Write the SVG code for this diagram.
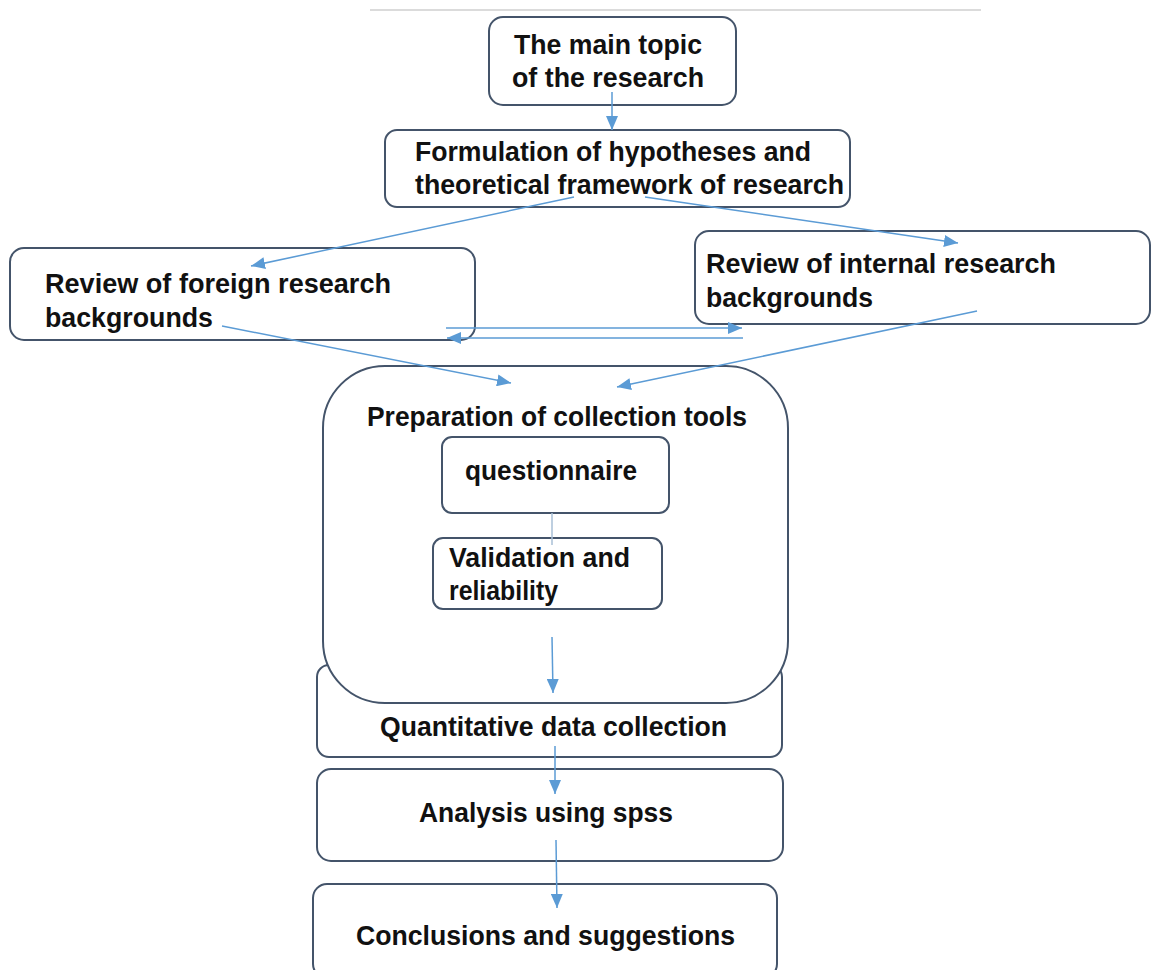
<svg xmlns="http://www.w3.org/2000/svg" width="1151" height="970" viewBox="0 0 1151 970">
<style>
.box{fill:#fff;stroke:#44546a;stroke-width:2}
.t{font-family:"Liberation Sans",Arial,sans-serif;font-weight:bold;font-size:28px;fill:#111}
.c{fill:none;stroke:#5b9bd5;stroke-width:1.5}
.a{marker-end:url(#ah)}
</style>
<defs>
<marker id="ah" markerUnits="userSpaceOnUse" markerWidth="14" markerHeight="12" refX="14" refY="6" orient="auto">
<path d="M0,0 L14,6 L0,12 z" fill="#5b9bd5"/>
</marker>
</defs>
<rect width="1151" height="970" fill="#fff"/>
<line x1="370" y1="10" x2="981" y2="10" stroke="#cfcfcf" stroke-width="1.5"/>

<g id="n1">
<rect class="box" x="489" y="17" width="247" height="88" rx="14"/>
<text class="t" x="514" y="54" textLength="188" lengthAdjust="spacingAndGlyphs">The main topic</text>
<text class="t" x="512" y="87" textLength="192" lengthAdjust="spacingAndGlyphs">of the research</text>
</g>
<g id="n2">
<rect class="box" x="385" y="130" width="465" height="77" rx="12"/>
<text class="t" x="415" y="161" textLength="396" lengthAdjust="spacingAndGlyphs">Formulation of hypotheses and</text>
<text class="t" x="415" y="194" textLength="429" lengthAdjust="spacingAndGlyphs">theoretical framework of research</text>
</g>
<g id="n3">
<rect class="box" x="10" y="248" width="465" height="92" rx="14"/>
<text class="t" x="45" y="293" textLength="346" lengthAdjust="spacingAndGlyphs">Review of foreign research</text>
<text class="t" x="45" y="327" textLength="168" lengthAdjust="spacingAndGlyphs">backgrounds</text>
</g>
<g id="n4">
<rect class="box" x="695" y="231" width="455" height="93" rx="14"/>
<text class="t" x="706" y="273" textLength="350" lengthAdjust="spacingAndGlyphs">Review of internal research</text>
<text class="t" x="706" y="307" textLength="167" lengthAdjust="spacingAndGlyphs">backgrounds</text>
</g>
<g id="n8">
<rect class="box" x="317" y="665" width="465" height="92" rx="12"/>
<text class="t" x="380" y="736" textLength="347" lengthAdjust="spacingAndGlyphs">Quantitative data collection</text>
</g>
<g id="n5">
<rect class="box" x="323" y="366" width="465" height="337" rx="62"/>
<text class="t" x="367" y="426" textLength="380" lengthAdjust="spacingAndGlyphs">Preparation of collection tools</text>
</g>
<g id="n6">
<rect class="box" x="442" y="437" width="227" height="76" rx="10"/>
<text class="t" x="465" y="480" textLength="172" lengthAdjust="spacingAndGlyphs">questionnaire</text>
</g>
<g id="n7">
<rect class="box" x="433" y="538" width="229" height="71" rx="10"/>
<text class="t" x="449" y="567" textLength="181" lengthAdjust="spacingAndGlyphs">Validation and</text>
<text class="t" x="449" y="600" textLength="109" lengthAdjust="spacingAndGlyphs">reliability</text>
</g>
<g id="n9">
<rect class="box" x="317" y="769" width="466" height="92" rx="14"/>
<text class="t" x="419" y="822" textLength="254" lengthAdjust="spacingAndGlyphs">Analysis using spss</text>
</g>
<g id="n10">
<rect class="box" x="313" y="884" width="464" height="94" rx="14"/>
<text class="t" x="356" y="945" textLength="379" lengthAdjust="spacingAndGlyphs">Conclusions and suggestions</text>
</g>

<g id="connectors">
<line class="c a" x1="612" y1="92" x2="612" y2="130"/>
<line class="c a" x1="574" y1="197" x2="251" y2="266"/>
<line class="c a" x1="645" y1="197" x2="958" y2="243"/>
<line class="c a" x1="446" y1="328" x2="742" y2="328"/>
<line class="c a" x1="743" y1="338" x2="447" y2="338"/>
<line class="c a" x1="222" y1="326" x2="511" y2="383"/>
<line class="c a" x1="977" y1="311" x2="617" y2="387"/>
<line x1="552" y1="513" x2="552" y2="545" stroke="#a9bfd6" stroke-width="1.5"/>
<line class="c a" x1="552" y1="637" x2="553" y2="693"/>
<line class="c a" x1="555" y1="746" x2="555" y2="794"/>
<line class="c a" x1="556" y1="840" x2="557" y2="908"/>
</g>
</svg>
